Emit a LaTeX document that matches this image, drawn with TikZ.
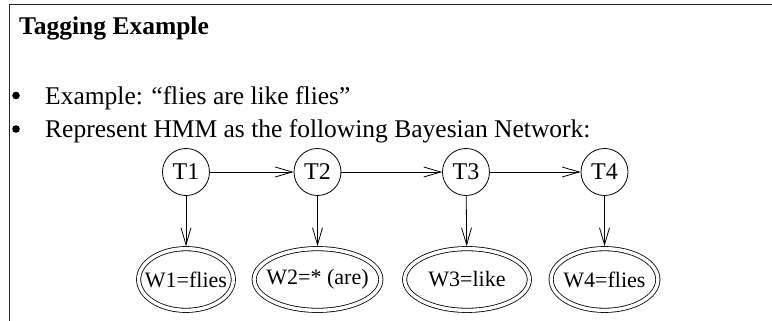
\documentclass[tikz,border=0pt]{standalone}
\usepackage{fontspec}
\setmainfont{Liberation Serif}
\usetikzlibrary{arrows.meta,shapes.geometric}

\begin{document}
\begin{tikzpicture}[x=1pt,y=-1pt,>={Straight Barb[length=17pt,width=10pt]},
	line join=round, line cap=round,
	tag/.style={circle,draw,line width=0.8pt,minimum size=47pt,inner sep=0pt,font=\fontsize{24}{28}\selectfont},
	word/.style={ellipse,draw,double,double distance=3.4pt,line width=0.8pt,inner xsep=-12pt,inner ysep=0pt,minimum height=61.7pt,font=\fontsize{22}{26}\selectfont},
	edge/.style={->,line width=0.8pt},
	txt/.style={anchor=base west,inner sep=0pt,font=\fontsize{25.5}{30}\selectfont}]
	\useasboundingbox (0,0) rectangle (772,321);
	% slide frame
	\draw[line width=1.6pt,black!85] (9.5,321) -- (9.5,4.5) -- (772,4.5);
	% heading and bullets
	\node[txt,font=\fontsize{25.5}{30}\selectfont\bfseries] (title) at (19,35) {Tagging Example};
	\fill (16,95.5) circle (3.8);
	\fill (16,129) circle (3.8);
	\node[txt] (ex) at (45,104.5) {Example: ``flies are like flies''};
	\node[txt] (rep) at (45,138) {Represent HMM as the following Bayesian Network:};
	% hidden tags
	\node[tag] (t1) at (186,172) {T1};
	\node[tag] (t2) at (317.5,172) {T2};
	\node[tag] (t3) at (466,172) {T3};
	\node[tag] (t4) at (604.5,172) {T4};
	% observed words
	\node[word,minimum width=94.7pt] (w1) at (186,279.5) {W1=flies};
	\node[word,minimum width=126.7pt] (w2) at (317.5,279.5) {W2=* (are)};
	\node[word,minimum width=124.7pt] (w3) at (467,279.5) {W3=like};
	\node[word,minimum width=106.7pt] (w4) at (604.5,279.5) {W4=flies};
	\draw[edge] (t1) -- (t2);
	\draw[edge] (t2) -- (t3);
	\draw[edge] (t3) -- (t4);
	\draw[edge,shorten >=2.1pt] (t1) -- (w1);
	\draw[edge,shorten >=2.1pt] (t2) -- (w2);
	\draw[edge,shorten >=2.1pt] (t3) -- (w3);
	\draw[edge,shorten >=2.1pt] (t4) -- (w4);
\end{tikzpicture}
\end{document}
